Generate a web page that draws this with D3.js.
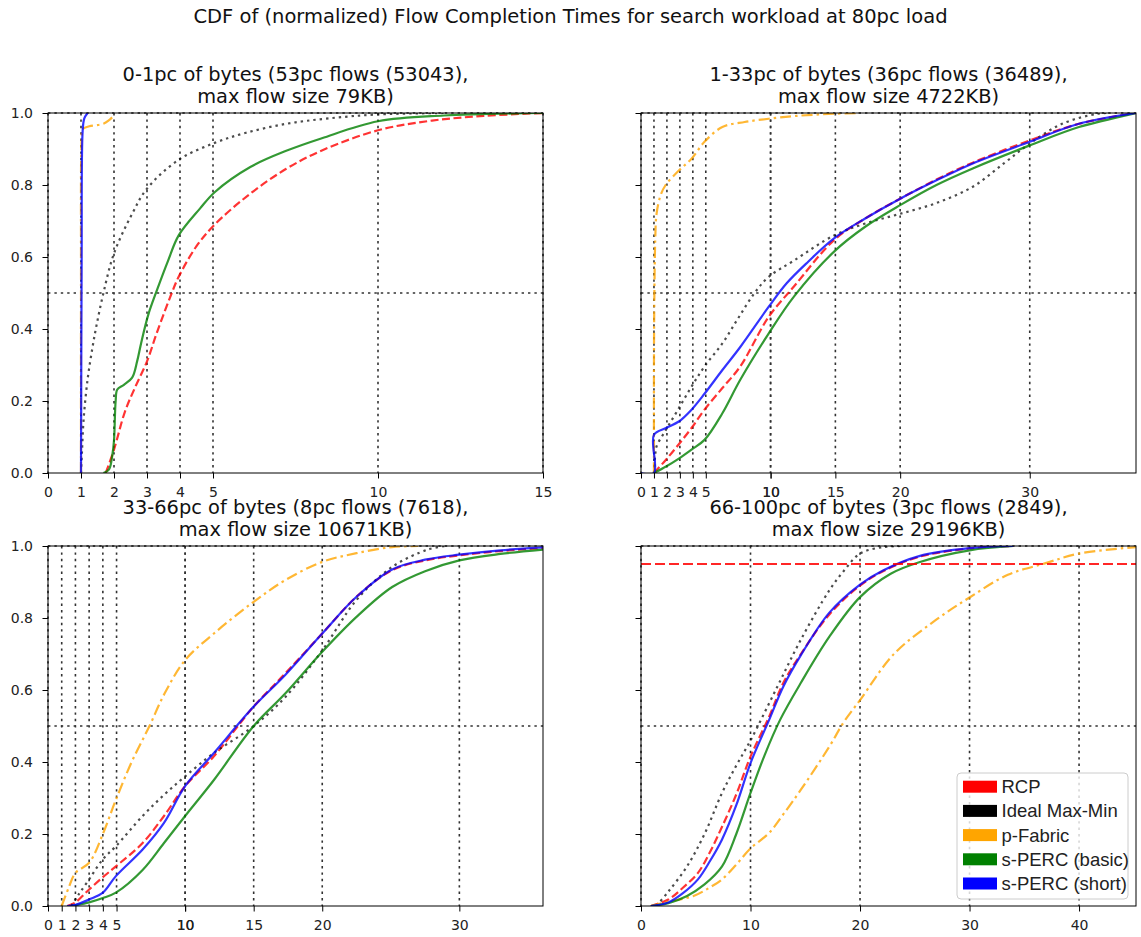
<!DOCTYPE html>
<html>
<head>
<meta charset="utf-8">
<script src="https://cdn.jsdelivr.net/npm/d3@7"></script>
<style>
  body { margin: 0; background: #fff; }
  svg { display: block; }
</style>
</head>
<body>
<svg id="chart" width="1141" height="937"></svg>
<script>
// ---- data ----
const seriesNames = ["RCP", "Ideal Max-Min", "p-Fabric", "s-PERC (basic)", "s-PERC (short)"];
const figTitle = "CDF of (normalized) Flow Completion Times for search workload at 80pc load";
const panelTitles = [
    ["0-1pc of bytes (53pc flows (53043),", "max flow size 79KB)"],
    ["1-33pc of bytes (36pc flows (36489),", "max flow size 4722KB)"],
    ["33-66pc of bytes (8pc flows (7618),", "max flow size 10671KB)"],
    ["66-100pc of bytes (3pc flows (2849),", "max flow size 29196KB)"]
];
const xMax = [15, 38.2, 36.1, 45.2];
const xTicks = [
    [0, 1, 2, 3, 4, 5, 10, 15],
    [0, 1, 2, 3, 4, 5, 10, 10, 15, 20, 30],
    [0, 1, 2, 3, 4, 5, 10, 10, 15, 20, 30],
    [0, 10, 20, 30, 40]
];
const yTicks = [0, 0.2, 0.4, 0.6, 0.8, 1.0];
const yGrid = [0.5, 1.0];
const redLine = [null, null, null, 0.95];

// panel 1: 0-1pc
const rcp1 = [[1.75,0],[2.0,0.065],[2.33,0.17],[2.65,0.24],[3.0,0.31],[3.3,0.39],[3.75,0.5],[3.96,0.545],[4.5,0.63],[5.05,0.69],[6.13,0.776],[7.22,0.845],[8.3,0.896],[10,0.952],[11.56,0.978],[13.2,0.992],[15,1.0]];
const ideal1 = [[1.0,0],[1.03,0.06],[1.08,0.15],[1.2,0.26],[1.35,0.35],[1.47,0.41],[1.68,0.5],[2.0,0.61],[2.55,0.72],[3.0,0.79],[3.96,0.87],[5.05,0.917],[6,0.945],[7.22,0.97],[8.5,0.985],[10,0.996],[12,1.0]];
const pfab1 = [[1.0,0],[1.0,0.5],[1.02,0.93],[1.05,0.955],[1.25,0.963],[1.68,0.97],[1.85,0.98],[2.0,0.993]];
const basic1 = [[1.68,0],[1.85,0.01],[1.95,0.05],[2.0,0.09],[2.05,0.2],[2.1,0.232],[2.3,0.245],[2.55,0.265],[2.7,0.31],[2.82,0.36],[3.04,0.44],[3.31,0.51],[3.64,0.59],[3.96,0.66],[4.61,0.735],[5.05,0.78],[6.13,0.85],[7.22,0.895],[8.3,0.93],[10,0.977],[12,0.993],[15,1.0]];
const short1 = [[1.0,0],[1.02,0.6],[1.05,0.95],[1.1,0.985],[1.2,1.0]];

// panel 2: 1-33pc
const rcp2 = [[1,0],[1.93,0.037],[2.92,0.08],[3.9,0.125],[4.9,0.176],[6.28,0.236],[7.66,0.296],[9.86,0.434],[11.8,0.518],[14.9,0.647],[17.3,0.707],[20,0.762],[22.8,0.815],[25.6,0.862],[30,0.924],[33.8,0.97],[38.2,1.0]];
const ideal2 = [[1,0],[1.1,0.05],[1.2,0.074],[1.93,0.12],[2.92,0.18],[3.9,0.24],[4.9,0.296],[6.28,0.36],[7.5,0.43],[8.76,0.5],[9.86,0.545],[11.8,0.59],[14.9,0.66],[17.3,0.693],[20,0.72],[22.8,0.75],[25.6,0.795],[28,0.86],[30,0.915],[32.5,0.97],[35.2,0.998],[36,1.0]];
const pfab2 = [[1,0],[1.0,0.3],[1.02,0.45],[1.05,0.55],[1.1,0.65],[1.2,0.72],[1.5,0.77],[1.9,0.8],[2.92,0.84],[3.9,0.873],[4.9,0.92],[6.28,0.961],[8,0.975],[9.86,0.984],[12,0.992],[14.9,0.998],[16.7,1.0]];
const basic2 = [[1,0],[1.93,0.018],[2.92,0.04],[3.9,0.065],[4.9,0.092],[6.28,0.166],[7.66,0.259],[9.86,0.388],[11.8,0.49],[14.9,0.615],[17.3,0.684],[20,0.744],[22.8,0.8],[25.6,0.846],[30,0.91],[33.8,0.961],[38.2,1.0]];
const short2 = [[0,0],[1,0],[1,0.106],[1.93,0.125],[2.92,0.143],[3.9,0.176],[4.9,0.22],[6.28,0.286],[7.66,0.35],[9.86,0.462],[11.24,0.527],[12.9,0.587],[14.9,0.652],[17.3,0.707],[20,0.762],[22.8,0.813],[25.6,0.86],[30,0.92],[33.8,0.97],[38.2,1.0]];

// panel 3: 33-66pc
const rcp3 = [[1.4,0],[2,0.01],[3,0.046],[4,0.08],[4.95,0.11],[6.9,0.175],[8.46,0.25],[10,0.333],[12.1,0.416],[15,0.554],[17.3,0.646],[20,0.757],[22.5,0.859],[25.1,0.933],[27.5,0.96],[30,0.974],[33,0.986],[36.1,0.994]];
const ideal3 = [[1.7,0],[2.2,0.03],[3,0.074],[4,0.13],[4.95,0.166],[6.9,0.25],[8.5,0.31],[10,0.36],[12.1,0.425],[15,0.5],[17.3,0.58],[20,0.71],[22.5,0.85],[25.1,0.942],[27.7,0.99],[29,1.0]];
const pfab3 = [[1,0],[1.5,0.05],[2,0.092],[3,0.12],[4,0.2],[4.95,0.295],[6.1,0.4],[7.4,0.5],[8.5,0.59],[10,0.683],[12.1,0.757],[15,0.845],[17.3,0.905],[20,0.956],[22.5,0.98],[25.1,0.997],[27,1.0]];
const basic3 = [[1.7,0],[3,0.01],[4,0.022],[4.95,0.037],[6.9,0.1],[8.46,0.175],[10,0.25],[12.1,0.35],[15,0.5],[17.3,0.59],[20,0.706],[22.5,0.803],[25.1,0.886],[27.5,0.93],[30,0.96],[33,0.978],[36.1,0.99]];
const short3 = [[1.4,0],[2,0.003],[3,0.018],[4,0.037],[4.95,0.083],[6.9,0.157],[8.46,0.231],[10,0.333],[12.1,0.425],[15,0.554],[17.3,0.642],[20,0.757],[22.5,0.859],[25.1,0.935],[27.5,0.962],[30,0.976],[33,0.988],[36.1,0.996]];

// panel 4: 66-100pc
const rcp4 = [[0.9,0],[2.5,0.018],[3.8,0.05],[5.2,0.092],[6.3,0.15],[7.4,0.22],[8.7,0.31],[10,0.415],[11.7,0.526],[13,0.62],[14.6,0.70],[17.2,0.81],[20,0.89],[22.1,0.93],[25.4,0.97],[30,0.993],[34,1.0]];
const ideal4 = [[1.4,0],[2.5,0.04],[4.2,0.11],[5.8,0.2],[7.4,0.314],[8.7,0.39],[10,0.46],[12.3,0.6],[14.6,0.74],[17.2,0.877],[18.5,0.93],[20,0.979],[22.1,0.997],[24,1.0]];
const pfab4 = [[0.9,0],[2.5,0.012],[4.8,0.028],[6.2,0.05],[7.4,0.074],[8.7,0.115],[10,0.16],[11.7,0.203],[13,0.255],[14.6,0.323],[17.2,0.443],[18.5,0.51],[20,0.572],[23.1,0.70],[26.9,0.794],[30,0.857],[33.5,0.92],[36.8,0.951],[40,0.979],[45.2,0.997]];
const basic4 = [[0.9,0],[2.5,0.008],[4.2,0.028],[5.8,0.06],[7.4,0.11],[8.7,0.2],[10,0.314],[11.3,0.42],[12.7,0.517],[14.6,0.62],[17.2,0.748],[20,0.858],[22.8,0.923],[25.4,0.955],[30,0.988],[34,1.0]];
const short4 = [[0.9,0],[2.5,0.01],[3.8,0.035],[5.2,0.074],[6.3,0.125],[7.4,0.185],[8.7,0.28],[10,0.397],[11.7,0.517],[13,0.61],[14.6,0.697],[17.2,0.815],[20,0.893],[22.1,0.932],[25.4,0.972],[30,0.994],[34,1.0]];

const panelData = [
    [rcp1, ideal1, pfab1, basic1, short1],
    [rcp2, ideal2, pfab2, basic2, short2],
    [rcp3, ideal3, pfab3, basic3, short3],
    [rcp4, ideal4, pfab4, basic4, short4]
];

// ---- styling ----
const styles = [
    {color: "red", dash: "8,3.5", opacity: 0.8},
    {color: "black", dash: "2.4,4", opacity: 0.7},
    {color: "orange", dash: "11,4,2.5,4", opacity: 0.8},
    {color: "green", dash: null, opacity: 0.8},
    {color: "blue", dash: null, opacity: 0.8}
];
const layout = {
    lefts: [48, 641], tops: [113, 546], width: 495, height: 360
};
const titleFont = "'DejaVu Sans', sans-serif";

const svg = d3.select("#chart");

svg.append("text")
    .attr("x", 570.5).attr("y", 22.5)
    .attr("text-anchor", "middle")
    .style("font-family", titleFont).style("font-size", "19.5px").style("fill", "#111")
    .text(figTitle);

panelData.forEach((series, i) => renderPanel(i, series));

function renderPanel(i, series) {
    const x0 = layout.lefts[i % 2], y0 = layout.tops[Math.floor(i / 2)];
    const w = layout.width, h = layout.height;
    const x = d3.scaleLinear().domain([0, xMax[i]]).range([0, w]);
    const y = d3.scaleLinear().domain([0, 1]).range([h, 0]);
    const g = svg.append("g").attr("transform", `translate(${x0},${y0})`);

    g.append("clipPath").attr("id", `clip${i}`)
        .append("rect").attr("width", w).attr("height", h);

    // grid
    const grid = g.append("g").attr("class", "grid")
        .attr("stroke", "#000").attr("stroke-width", 1.6)
        .attr("stroke-dasharray", "2.4,4").attr("opacity", 0.8);
    grid.selectAll("line.v").data(xTicks[i]).join("line").attr("class", "v")
        .attr("x1", d => x(d)).attr("x2", d => x(d)).attr("y1", 0).attr("y2", h);
    grid.selectAll("line.h").data(yGrid).join("line").attr("class", "h")
        .attr("x1", 0).attr("x2", w).attr("y1", d => y(d)).attr("y2", d => y(d));

    // curves
    const line = d3.line().x(d => x(d[0])).y(d => y(d[1])).curve(d3.curveCatmullRom.alpha(0.5));
    const curves = g.append("g").attr("clip-path", `url(#clip${i})`);
    curves.selectAll("path").data(series).join("path")
        .attr("d", line)
        .attr("fill", "none")
        .attr("stroke", (d, k) => styles[k].color)
        .attr("stroke-opacity", (d, k) => styles[k].opacity)
        .attr("stroke-width", 2.2)
        .attr("stroke-dasharray", (d, k) => styles[k].dash);

    if (redLine[i] !== null) {
        curves.append("line")
            .attr("x1", 0).attr("x2", w)
            .attr("y1", y(redLine[i])).attr("y2", y(redLine[i]))
            .attr("stroke", "red").attr("stroke-opacity", 0.85)
            .attr("stroke-width", 2.2).attr("stroke-dasharray", "10,4");
    }

    // axes
    const xAxis = g.append("g").attr("transform", `translate(0,${h})`)
        .call(d3.axisBottom(x).tickValues(xTicks[i]).tickFormat(d3.format("d"))
            .tickSize(5.5).tickSizeOuter(0).tickPadding(8.5));
    const yAxis = g.append("g")
        .call(d3.axisLeft(y).tickValues(yTicks).tickFormat(i % 2 === 0 ? d3.format(".1f") : () => "")
            .tickSize(5.5).tickSizeOuter(0).tickPadding(9.5));
    [xAxis, yAxis].forEach(a => {
        a.select(".domain").remove();
        a.selectAll("line").attr("stroke", "#000");
        a.selectAll("text").style("font-family", titleFont).style("font-size", "14px").attr("fill", "#222");
    });

    g.append("rect").attr("width", w).attr("height", h)
        .attr("fill", "none").attr("stroke", "#000").attr("stroke-width", 1);

    // title
    g.append("g").selectAll("text").data(panelTitles[i]).join("text")
        .attr("x", w / 2).attr("y", (d, k) => -32.3 + k * 22.6)
        .attr("text-anchor", "middle")
        .style("font-family", titleFont).style("font-size", "19.4px").style("fill", "#111")
        .text(d => d);

    if (i === 3) renderLegend(g, w, h);
}

function renderLegend(g, w, h) {
    const bw = 171, bh = 126;
    const lg = g.append("g").attr("transform", `translate(${w - 8 - bw},${h - 7 - bh})`);
    lg.append("rect").attr("width", bw).attr("height", bh).attr("rx", 4)
        .attr("fill", "#fff").attr("fill-opacity", 0.8)
        .attr("stroke", "#ccc").attr("stroke-width", 1);
    const rows = lg.selectAll("g.row").data(seriesNames).join("g").attr("class", "row")
        .attr("transform", (d, k) => `translate(6,${13.7 + k * 24.2})`);
    rows.append("rect").attr("width", 34).attr("height", 12).attr("y", -6)
        .attr("fill", (d, k) => styles[k].color);
    rows.append("text").attr("x", 38.5).attr("y", 6.5)
        .style("font-family", "'Liberation Sans', Arial, sans-serif").style("font-size", "18.5px")
        .style("fill", "#222")
        .text(d => d);
}
</script>
</body>
</html>
